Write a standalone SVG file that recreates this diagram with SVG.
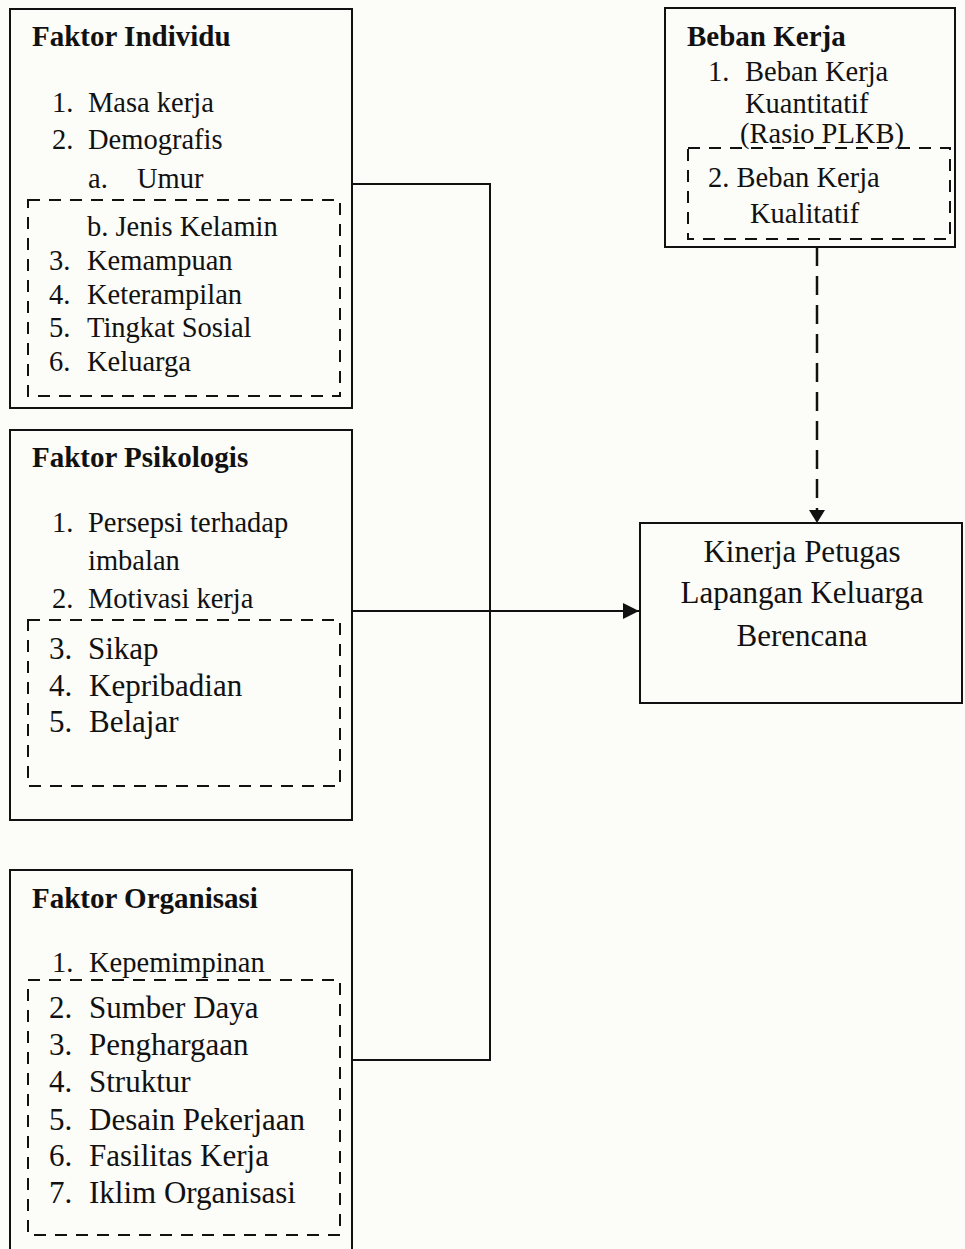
<svg xmlns="http://www.w3.org/2000/svg" width="965" height="1249" viewBox="0 0 965 1249">
<style>
.box{fill:none;stroke:#111;stroke-width:2}
.dash{fill:none;stroke:#111;stroke-width:2;stroke-dasharray:12,9}
.t{font-family:"Liberation Serif","Times New Roman",serif;font-size:28.5px;fill:#111}
.tl{font-family:"Liberation Serif","Times New Roman",serif;font-size:31px;fill:#111}
.b{font-family:"Liberation Serif","Times New Roman",serif;font-size:29px;font-weight:bold;fill:#111}
.line{fill:none;stroke:#111;stroke-width:2}
</style>
<defs>
<marker id="ah" markerWidth="16" markerHeight="16" refX="16" refY="8" orient="auto" markerUnits="userSpaceOnUse">
<path d="M0,0 L16,8 L0,16 Z" fill="#111"/>
</marker>
</defs>
<rect width="965" height="1249" fill="#fcfcf8"/>

<g id="individu">
<rect class="box" x="10" y="9" width="342" height="399"/>
<rect class="dash" x="28" y="200" width="312" height="196"/>
<text class="b" x="32" y="46">Faktor Individu</text>
<text class="t" x="52" y="112">1.</text><text class="t" x="88" y="112">Masa kerja</text>
<text class="t" x="52" y="149">2.</text><text class="t" x="88" y="149">Demografis</text>
<text class="t" x="88" y="188">a.</text><text class="t" x="137" y="188">Umur</text>
<text class="t" x="87" y="236">b. Jenis Kelamin</text>
<text class="t" x="49" y="270">3.</text><text class="t" x="87" y="270">Kemampuan</text>
<text class="t" x="49" y="304">4.</text><text class="t" x="87" y="304">Keterampilan</text>
<text class="t" x="49" y="337">5.</text><text class="t" x="87" y="337">Tingkat Sosial</text>
<text class="t" x="49" y="371">6.</text><text class="t" x="87" y="371">Keluarga</text>
</g>

<g id="psikologis">
<rect class="box" x="10" y="430" width="342" height="390"/>
<rect class="dash" x="28" y="620" width="312" height="166"/>
<text class="b" x="32" y="467">Faktor Psikologis</text>
<text class="t" x="52" y="532">1.</text><text class="t" x="88" y="532">Persepsi terhadap</text>
<text class="t" x="88" y="570">imbalan</text>
<text class="t" x="52" y="608">2.</text><text class="t" x="88" y="608">Motivasi kerja</text>
<text class="tl" x="49" y="659">3.</text><text class="tl" x="88" y="659">Sikap</text>
<text class="tl" x="49" y="696">4.</text><text class="tl" x="89" y="696">Kepribadian</text>
<text class="tl" x="49" y="732">5.</text><text class="tl" x="89" y="732">Belajar</text>
</g>

<g id="organisasi">
<rect class="box" x="10" y="870" width="342" height="390"/>
<rect class="dash" x="28" y="980" width="312" height="255"/>
<text class="b" x="32" y="908">Faktor Organisasi</text>
<text class="t" x="52" y="972">1.</text><text class="t" x="89" y="972">Kepemimpinan</text>
<text class="tl" x="49" y="1018">2.</text><text class="tl" x="89" y="1018">Sumber Daya</text>
<text class="tl" x="49" y="1055">3.</text><text class="tl" x="89" y="1055">Penghargaan</text>
<text class="tl" x="49" y="1092">4.</text><text class="tl" x="89" y="1092">Struktur</text>
<text class="tl" x="49" y="1130">5.</text><text class="tl" x="89" y="1130">Desain Pekerjaan</text>
<text class="tl" x="49" y="1166">6.</text><text class="tl" x="89" y="1166">Fasilitas Kerja</text>
<text class="tl" x="49" y="1203">7.</text><text class="tl" x="89" y="1203">Iklim Organisasi</text>
</g>

<g id="beban">
<rect class="box" x="665" y="8" width="290" height="239"/>
<rect class="dash" x="688" y="148" width="262" height="91"/>
<text class="b" x="687" y="46">Beban Kerja</text>
<text class="t" x="708" y="81">1.</text><text class="t" x="745" y="81">Beban Kerja</text>
<text class="t" x="745" y="113">Kuantitatif</text>
<text class="t" x="740" y="143">(Rasio PLKB)</text>
<text class="t" x="708" y="187">2. Beban Kerja</text>
<text class="t" x="750" y="223">Kualitatif</text>
</g>

<g id="kinerja">
<rect class="box" x="640" y="523" width="322" height="180"/>
<text class="tl" x="802" y="562" text-anchor="middle">Kinerja Petugas</text>
<text class="tl" x="802" y="603" text-anchor="middle">Lapangan Keluarga</text>
<text class="tl" x="802" y="646" text-anchor="middle">Berencana</text>
</g>

<g id="connectors">
<polyline class="line" points="352,184 490,184 490,1060 352,1060"/>
<line class="line" x1="352" y1="611" x2="639" y2="611" marker-end="url(#ah)"/>
<line x1="817" y1="247" x2="817" y2="510" stroke="#111" stroke-width="2.5" stroke-dasharray="19,10"/>
<path d="M809,510 L825,510 L817,523 Z" fill="#111"/>
</g>
</svg>
